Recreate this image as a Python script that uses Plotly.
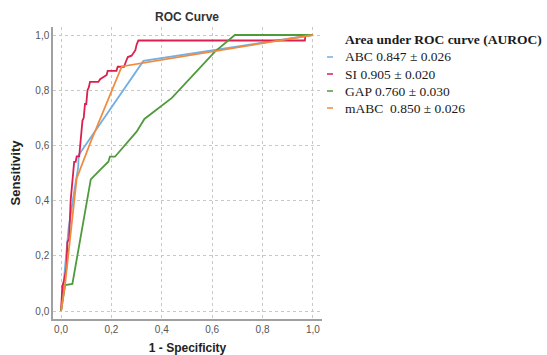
import plotly.graph_objects as go

# ---- data ----
abc_x = [0.0, 0.010, 0.030, 0.055, 0.068, 0.070, 0.327, 1.0]
abc_y = [0.0, 0.100, 0.300, 0.450, 0.520, 0.565, 0.906, 1.0]

si_x = [0.0, 0.005, 0.012, 0.018, 0.022, 0.025, 0.032, 0.038, 0.042, 0.048, 0.052, 0.058,
        0.062, 0.072, 0.075, 0.082, 0.085, 0.090, 0.095, 0.100, 0.105, 0.110, 0.115, 0.148,
        0.155, 0.165, 0.175, 0.181, 0.185, 0.220, 0.225, 0.250, 0.258, 0.265, 0.280, 0.290,
        0.295, 0.300, 0.307, 0.968, 0.970, 1.0]
si_y = [0.0, 0.090, 0.110, 0.150, 0.160, 0.250, 0.260, 0.400, 0.440, 0.500, 0.540, 0.540,
        0.560, 0.560, 0.600, 0.660, 0.690, 0.700, 0.750, 0.750, 0.800, 0.810, 0.830, 0.830,
        0.840, 0.845, 0.850, 0.855, 0.870, 0.870, 0.885, 0.885, 0.905, 0.920, 0.925, 0.940,
        0.945, 0.965, 0.980, 0.980, 1.0, 1.0]

gap_x = [0.0, 0.016, 0.045, 0.118, 0.155, 0.188, 0.194, 0.214, 0.300, 0.331, 0.440, 0.611, 0.690, 1.0]
gap_y = [0.0, 0.094, 0.098, 0.477, 0.511, 0.541, 0.559, 0.559, 0.650, 0.696, 0.772, 0.940, 1.0, 1.0]

mabc_x = [0.0, 0.015, 0.062, 0.115, 0.241, 1.0]
mabc_y = [0.0, 0.090, 0.480, 0.607, 0.886, 1.0]

series_names = ["ABC", "SI", "GAP", "mABC"]
auc_labels = ["0.847 ± 0.026", "0.905 ± 0.020", "0.760 ± 0.030", " 0.850 ± 0.026"]
colors = ["#74aee2", "#dc1f4e", "#4f9a3c", "#f28a3e"]

tick_vals = [0.0, 0.2, 0.4, 0.6, 0.8, 1.0]

PLOT_L, PLOT_R, PLOT_T, PLOT_B = 53, 322, 27, 319
W, H = 547, 355


def px_x(p):
    return (p - PLOT_L) / (PLOT_R - PLOT_L)


def px_y(p):
    return (PLOT_B - p) / (PLOT_B - PLOT_T)


fig = go.Figure()
for name, xs, ys, c in zip(series_names, [abc_x, si_x, gap_x, mabc_x],
                           [abc_y, si_y, gap_y, mabc_y], colors):
    fig.add_trace(go.Scatter(x=xs, y=ys, mode="lines", name=name,
                             line=dict(color=c, width=1.8), showlegend=False))

# custom legend (short dash markers like the original)
legend_rows = [57, 74, 91, 108]
for name, lab, c, yy in zip(series_names, auc_labels, colors, legend_rows):
    fig.add_shape(type="line", xref="paper", yref="paper", x0=px_x(327), x1=px_x(333),
                  y0=px_y(yy), y1=px_y(yy), line=dict(color=c, width=1.5))
    fig.add_annotation(xref="paper", yref="paper", x=px_x(343), y=px_y(yy), xanchor="left",
                       yanchor="middle", showarrow=False, text=f"{name} {lab}",
                       font=dict(family="Liberation Serif, Times New Roman, serif",
                                 size=13.5, color="#1a1a1a"))
fig.add_annotation(xref="paper", yref="paper", x=px_x(343), y=px_y(40), xanchor="left",
                   yanchor="middle", showarrow=False,
                   text="<b>Area under ROC curve (AUROC)</b>",
                   font=dict(family="Liberation Serif, Times New Roman, serif",
                             size=13.5, color="#1a1a1a"))

axis_common = dict(
    tickvals=tick_vals, tickformat=".1f",
    showgrid=True, gridcolor="#c8c8c8", griddash="dot", gridwidth=1,
    showline=True, linecolor="#a0a0a0", linewidth=1.5,
    zeroline=False, ticks="", automargin=False,
    tickfont=dict(family="Liberation Sans, Arial, sans-serif", size=10, color="#555555"),
)

fig.update_layout(
    width=W, height=H,
    margin=dict(l=PLOT_L, r=W - PLOT_R, t=PLOT_T, b=H - PLOT_B, pad=0),
    paper_bgcolor="white", plot_bgcolor="white",
    separators=",.",
    title=dict(text="<b>ROC Curve</b>", x=(187 / W), xanchor="center",
               y=1 - 17 / H, yanchor="middle",
               font=dict(family="Liberation Sans, Arial, sans-serif", size=12, color="#333333")),
    xaxis=dict(range=[-0.032, 1.036], **axis_common,
               title=dict(text="<b>1 - Specificity</b>", standoff=11,
                          font=dict(family="Liberation Sans, Arial, sans-serif", size=12,
                                    color="#222222"))),
    yaxis=dict(range=[-0.029, 1.029], **axis_common,
               title=dict(text="<b>Sensitivity</b>", standoff=12,
                          font=dict(family="Liberation Sans Narrow, Arial Narrow, Liberation Sans, sans-serif",
                                    size=13, color="#222222"))),
)

fig.write_html("out.html", config={"displayModeBar": False},
               post_script="document.body.style.margin='0';document.body.style.padding='0';")
